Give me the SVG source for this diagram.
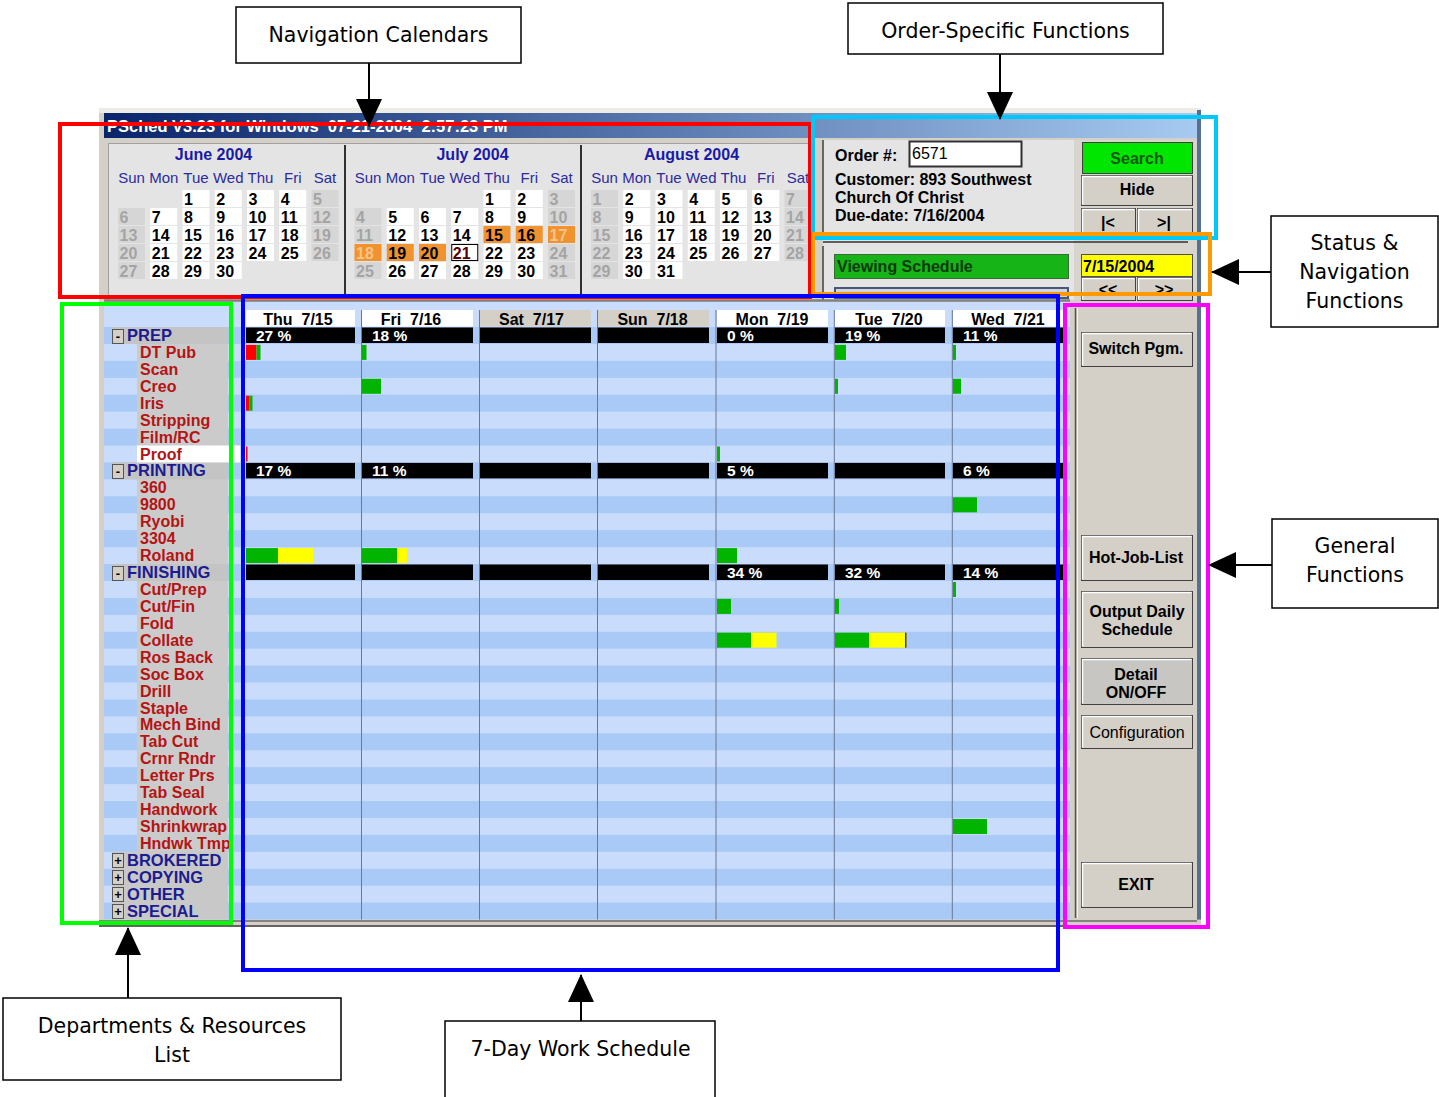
<svg xmlns="http://www.w3.org/2000/svg" width="1439" height="1097" viewBox="0 0 1439 1097">
<defs>
<linearGradient id="tb" x1="0" y1="0" x2="1" y2="0">
<stop offset="0" stop-color="#0a246a"/><stop offset="1" stop-color="#a6caf0"/>
</linearGradient>
<marker id="ah" viewBox="0 0 28 26" refX="27" refY="13" markerWidth="28" markerHeight="26" markerUnits="userSpaceOnUse" orient="auto">
<path d="M0,0 L28,13 L0,26 Z" fill="#000"/>
</marker>
</defs>
<style>
.callout rect{fill:#fff;stroke:#000;stroke-width:1.5}
.callout text{font-family:'DejaVu Sans',Verdana,sans-serif;font-size:20.5px;fill:#000;text-anchor:middle}
#connectors line{stroke:#000;stroke-width:2;marker-end:url(#ah)}
.hl{fill:none;stroke-width:4}
.ui{font-family:'Liberation Sans',Arial,sans-serif;font-weight:bold}
.mt{font-size:16px;fill:#1a1aa8;text-anchor:middle}
.dh{font-size:15px;font-weight:normal;fill:#2b2b9e;text-anchor:middle}
.cd{fill:#fff}
.cw{fill:#d6d6d6}
.co{fill:#f0922e}
.n{font-size:16px;fill:#000}
.nw{font-size:16px;fill:#a4a4a4}
.no{font-size:16px;fill:#f6c488}
.ds{fill:#a9c9f7}
.bar{fill:#000}
.pct{font-size:15.5px;fill:#fff}
.dayh{font-size:16px;fill:#000;text-anchor:middle}
.g{fill:#00b400}.r{fill:#ff0000}.y{fill:#ffff00}
.dep{font-size:16.5px;fill:#1c1c90}
.res{font-size:16px;fill:#b41414}
.btn{fill:#d4d0c8;stroke:#404040;stroke-width:1}
.bhl{fill:none;stroke:#fff;stroke-width:1.5}
.bt{font-size:16px;fill:#000;text-anchor:middle}
.sep{stroke:#6a7890;stroke-width:1}
.pm{fill:#d4d0c8;stroke:#555;stroke-width:1}
.pmt{font-size:13px;fill:#000;text-anchor:middle}
</style>

<!-- Screenshot scene -->
<g id="screenshot">
<rect x="99" y="108" width="1102" height="819" fill="#d4d0c8"/>
<rect x="99" y="108" width="1102" height="5" fill="#ecebe6"/>
<rect x="104" y="113" width="1093" height="25" fill="url(#tb)"/>
<text class="ui" x="107" y="132" font-size="16.5" fill="#fff" xml:space="preserve">PSched V3.23 for Windows  07-21-2004  2:57:23 PM</text>
<rect x="1197" y="110" width="4" height="817" fill="#56708f"/>

<!-- calendar panel -->
<g id="calendars">
<rect x="108" y="143" width="704" height="157" fill="#e4e4e4"/>
<line x1="108" y1="143.5" x2="812" y2="143.5" stroke="#a0a0a0"/>
<line x1="108.5" y1="143" x2="108.5" y2="300" stroke="#a0a0a0"/>
<line x1="345" y1="145" x2="345" y2="299" stroke="#303030" stroke-width="2"/>
<line x1="581" y1="145" x2="581" y2="299" stroke="#303030" stroke-width="2"/>
<text class="ui mt" x="213.5" y="160">June 2004</text>
<text class="ui mt" x="472.5" y="160">July 2004</text>
<text class="ui mt" x="691.5" y="160">August 2004</text>

<g transform="translate(118,0)" class="ui">
<text class="dh" x="13.5" y="183">Sun</text><text class="dh" x="45.75" y="183">Mon</text><text class="dh" x="78" y="183">Tue</text><text class="dh" x="110.25" y="183">Wed</text><text class="dh" x="142.5" y="183">Thu</text><text class="dh" x="174.75" y="183">Fri</text><text class="dh" x="207" y="183">Sat</text>
<rect class="cd" x="64.5" y="190" width="27" height="17"/><text class="n" x="66" y="205">1</text>
<rect class="cd" x="96.75" y="190" width="27" height="17"/><text class="n" x="98.25" y="205">2</text>
<rect class="cd" x="129" y="190" width="27" height="17"/><text class="n" x="130.5" y="205">3</text>
<rect class="cd" x="161.25" y="190" width="27" height="17"/><text class="n" x="162.75" y="205">4</text>
<rect class="cw" x="193.5" y="190" width="27" height="17"/><text class="nw" x="195" y="205">5</text>
<rect class="cw" x="0" y="208" width="27" height="17"/><text class="nw" x="1.5" y="223">6</text>
<rect class="cd" x="32.25" y="208" width="27" height="17"/><text class="n" x="33.75" y="223">7</text>
<rect class="cd" x="64.5" y="208" width="27" height="17"/><text class="n" x="66" y="223">8</text>
<rect class="cd" x="96.75" y="208" width="27" height="17"/><text class="n" x="98.25" y="223">9</text>
<rect class="cd" x="129" y="208" width="27" height="17"/><text class="n" x="130.5" y="223">10</text>
<rect class="cd" x="161.25" y="208" width="27" height="17"/><text class="n" x="162.75" y="223">11</text>
<rect class="cw" x="193.5" y="208" width="27" height="17"/><text class="nw" x="195" y="223">12</text>
<rect class="cw" x="0" y="226" width="27" height="17"/><text class="nw" x="1.5" y="241">13</text>
<rect class="cd" x="32.25" y="226" width="27" height="17"/><text class="n" x="33.75" y="241">14</text>
<rect class="cd" x="64.5" y="226" width="27" height="17"/><text class="n" x="66" y="241">15</text>
<rect class="cd" x="96.75" y="226" width="27" height="17"/><text class="n" x="98.25" y="241">16</text>
<rect class="cd" x="129" y="226" width="27" height="17"/><text class="n" x="130.5" y="241">17</text>
<rect class="cd" x="161.25" y="226" width="27" height="17"/><text class="n" x="162.75" y="241">18</text>
<rect class="cw" x="193.5" y="226" width="27" height="17"/><text class="nw" x="195" y="241">19</text>
<rect class="cw" x="0" y="244" width="27" height="17"/><text class="nw" x="1.5" y="259">20</text>
<rect class="cd" x="32.25" y="244" width="27" height="17"/><text class="n" x="33.75" y="259">21</text>
<rect class="cd" x="64.5" y="244" width="27" height="17"/><text class="n" x="66" y="259">22</text>
<rect class="cd" x="96.75" y="244" width="27" height="17"/><text class="n" x="98.25" y="259">23</text>
<rect class="cd" x="129" y="244" width="27" height="17"/><text class="n" x="130.5" y="259">24</text>
<rect class="cd" x="161.25" y="244" width="27" height="17"/><text class="n" x="162.75" y="259">25</text>
<rect class="cw" x="193.5" y="244" width="27" height="17"/><text class="nw" x="195" y="259">26</text>
<rect class="cw" x="0" y="262" width="27" height="17"/><text class="nw" x="1.5" y="277">27</text>
<rect class="cd" x="32.25" y="262" width="27" height="17"/><text class="n" x="33.75" y="277">28</text>
<rect class="cd" x="64.5" y="262" width="27" height="17"/><text class="n" x="66" y="277">29</text>
<rect class="cd" x="96.75" y="262" width="27" height="17"/><text class="n" x="98.25" y="277">30</text>
</g>

<g transform="translate(354.5,0)" class="ui">
<text class="dh" x="13.5" y="183">Sun</text><text class="dh" x="45.75" y="183">Mon</text><text class="dh" x="78" y="183">Tue</text><text class="dh" x="110.25" y="183">Wed</text><text class="dh" x="142.5" y="183">Thu</text><text class="dh" x="174.75" y="183">Fri</text><text class="dh" x="207" y="183">Sat</text>
<rect class="cd" x="129" y="190" width="27" height="17"/><text class="n" x="130.5" y="205">1</text>
<rect class="cd" x="161.25" y="190" width="27" height="17"/><text class="n" x="162.75" y="205">2</text>
<rect class="cw" x="193.5" y="190" width="27" height="17"/><text class="nw" x="195" y="205">3</text>
<rect class="cw" x="0" y="208" width="27" height="17"/><text class="nw" x="1.5" y="223">4</text>
<rect class="cd" x="32.25" y="208" width="27" height="17"/><text class="n" x="33.75" y="223">5</text>
<rect class="cd" x="64.5" y="208" width="27" height="17"/><text class="n" x="66" y="223">6</text>
<rect class="cd" x="96.75" y="208" width="27" height="17"/><text class="n" x="98.25" y="223">7</text>
<rect class="cd" x="129" y="208" width="27" height="17"/><text class="n" x="130.5" y="223">8</text>
<rect class="cd" x="161.25" y="208" width="27" height="17"/><text class="n" x="162.75" y="223">9</text>
<rect class="cw" x="193.5" y="208" width="27" height="17"/><text class="nw" x="195" y="223">10</text>
<rect class="cw" x="0" y="226" width="27" height="17"/><text class="nw" x="1.5" y="241">11</text>
<rect class="cd" x="32.25" y="226" width="27" height="17"/><text class="n" x="33.75" y="241">12</text>
<rect class="cd" x="64.5" y="226" width="27" height="17"/><text class="n" x="66" y="241">13</text>
<rect class="cd" x="96.75" y="226" width="27" height="17"/><text class="n" x="98.25" y="241">14</text>
<rect class="co" x="129" y="226" width="27" height="17"/><text class="n" x="130.5" y="241">15</text>
<rect class="co" x="161.25" y="226" width="27" height="17"/><text class="n" x="162.75" y="241">16</text>
<rect class="co" x="193.5" y="226" width="27" height="17"/><text class="no" x="195" y="241">17</text>
<rect class="co" x="0" y="244" width="27" height="17"/><text class="no" x="1.5" y="259">18</text>
<rect class="co" x="32.25" y="244" width="27" height="17"/><text class="n" x="33.75" y="259">19</text>
<rect class="co" x="64.5" y="244" width="27" height="17"/><text class="n" x="66" y="259">20</text>
<rect x="97.25" y="244.5" width="26" height="16" fill="#fff" stroke="#000"/><text class="n" x="98.25" y="259" style="fill:#5a0000">21</text>
<rect class="cd" x="129" y="244" width="27" height="17"/><text class="n" x="130.5" y="259">22</text>
<rect class="cd" x="161.25" y="244" width="27" height="17"/><text class="n" x="162.75" y="259">23</text>
<rect class="cw" x="193.5" y="244" width="27" height="17"/><text class="nw" x="195" y="259">24</text>
<rect class="cw" x="0" y="262" width="27" height="17"/><text class="nw" x="1.5" y="277">25</text>
<rect class="cd" x="32.25" y="262" width="27" height="17"/><text class="n" x="33.75" y="277">26</text>
<rect class="cd" x="64.5" y="262" width="27" height="17"/><text class="n" x="66" y="277">27</text>
<rect class="cd" x="96.75" y="262" width="27" height="17"/><text class="n" x="98.25" y="277">28</text>
<rect class="cd" x="129" y="262" width="27" height="17"/><text class="n" x="130.5" y="277">29</text>
<rect class="cd" x="161.25" y="262" width="27" height="17"/><text class="n" x="162.75" y="277">30</text>
<rect class="cw" x="193.5" y="262" width="27" height="17"/><text class="nw" x="195" y="277">31</text>
</g>

<g transform="translate(591,0)" class="ui">
<text class="dh" x="13.5" y="183">Sun</text><text class="dh" x="45.75" y="183">Mon</text><text class="dh" x="78" y="183">Tue</text><text class="dh" x="110.25" y="183">Wed</text><text class="dh" x="142.5" y="183">Thu</text><text class="dh" x="174.75" y="183">Fri</text><text class="dh" x="207" y="183">Sat</text>
<rect class="cw" x="0" y="190" width="27" height="17"/><text class="nw" x="1.5" y="205">1</text>
<rect class="cd" x="32.25" y="190" width="27" height="17"/><text class="n" x="33.75" y="205">2</text>
<rect class="cd" x="64.5" y="190" width="27" height="17"/><text class="n" x="66" y="205">3</text>
<rect class="cd" x="96.75" y="190" width="27" height="17"/><text class="n" x="98.25" y="205">4</text>
<rect class="cd" x="129" y="190" width="27" height="17"/><text class="n" x="130.5" y="205">5</text>
<rect class="cd" x="161.25" y="190" width="27" height="17"/><text class="n" x="162.75" y="205">6</text>
<rect class="cw" x="193.5" y="190" width="27" height="17"/><text class="nw" x="195" y="205">7</text>
<rect class="cw" x="0" y="208" width="27" height="17"/><text class="nw" x="1.5" y="223">8</text>
<rect class="cd" x="32.25" y="208" width="27" height="17"/><text class="n" x="33.75" y="223">9</text>
<rect class="cd" x="64.5" y="208" width="27" height="17"/><text class="n" x="66" y="223">10</text>
<rect class="cd" x="96.75" y="208" width="27" height="17"/><text class="n" x="98.25" y="223">11</text>
<rect class="cd" x="129" y="208" width="27" height="17"/><text class="n" x="130.5" y="223">12</text>
<rect class="cd" x="161.25" y="208" width="27" height="17"/><text class="n" x="162.75" y="223">13</text>
<rect class="cw" x="193.5" y="208" width="27" height="17"/><text class="nw" x="195" y="223">14</text>
<rect class="cw" x="0" y="226" width="27" height="17"/><text class="nw" x="1.5" y="241">15</text>
<rect class="cd" x="32.25" y="226" width="27" height="17"/><text class="n" x="33.75" y="241">16</text>
<rect class="cd" x="64.5" y="226" width="27" height="17"/><text class="n" x="66" y="241">17</text>
<rect class="cd" x="96.75" y="226" width="27" height="17"/><text class="n" x="98.25" y="241">18</text>
<rect class="cd" x="129" y="226" width="27" height="17"/><text class="n" x="130.5" y="241">19</text>
<rect class="cd" x="161.25" y="226" width="27" height="17"/><text class="n" x="162.75" y="241">20</text>
<rect class="cw" x="193.5" y="226" width="27" height="17"/><text class="nw" x="195" y="241">21</text>
<rect class="cw" x="0" y="244" width="27" height="17"/><text class="nw" x="1.5" y="259">22</text>
<rect class="cd" x="32.25" y="244" width="27" height="17"/><text class="n" x="33.75" y="259">23</text>
<rect class="cd" x="64.5" y="244" width="27" height="17"/><text class="n" x="66" y="259">24</text>
<rect class="cd" x="96.75" y="244" width="27" height="17"/><text class="n" x="98.25" y="259">25</text>
<rect class="cd" x="129" y="244" width="27" height="17"/><text class="n" x="130.5" y="259">26</text>
<rect class="cd" x="161.25" y="244" width="27" height="17"/><text class="n" x="162.75" y="259">27</text>
<rect class="cw" x="193.5" y="244" width="27" height="17"/><text class="nw" x="195" y="259">28</text>
<rect class="cw" x="0" y="262" width="27" height="17"/><text class="nw" x="1.5" y="277">29</text>
<rect class="cd" x="32.25" y="262" width="27" height="17"/><text class="n" x="33.75" y="277">30</text>
<rect class="cd" x="64.5" y="262" width="27" height="17"/><text class="n" x="66" y="277">31</text>
</g>
</g>

<!-- order / status panel -->
<g id="order-panel" class="ui">
<rect x="823" y="140" width="374" height="160" fill="#e4e4e4"/>
<rect x="1074" y="140" width="123" height="160" fill="#d8d5ce"/>
<line x1="823" y1="140" x2="823" y2="236" stroke="#404040" stroke-width="1.5"/>
<line x1="823" y1="246" x2="823" y2="300" stroke="#404040" stroke-width="1.5"/>
<text class="n" x="835" y="161">Order #:</text>
<rect x="909.5" y="141.5" width="112" height="25" fill="#fff" stroke="#303030" stroke-width="2"/>
<text x="912" y="159" font-size="16" font-weight="normal" fill="#000">6571</text>
<text class="n" x="835" y="185">Customer: 893 Southwest</text>
<text class="n" x="835" y="203">Church Of Christ</text>
<text class="n" x="835" y="221">Due-date: 7/16/2004</text>
<rect x="1082.5" y="142.5" width="110" height="31" fill="#00e600" stroke="#404040"/>
<text class="bt" x="1137" y="164" style="fill:#0a5a0a">Search</text>
<rect class="btn" x="1081.5" y="175.5" width="111" height="30"/><path class="bhl" d="M1082.5,204.5 V176.5 H1191.5"/>
<text class="bt" x="1137" y="195">Hide</text>
<rect class="btn" x="1081.5" y="208.5" width="54" height="29"/><path class="bhl" d="M1082.5,236.5 V209.5 H1134.5"/>
<rect class="btn" x="1137.5" y="208.5" width="55" height="29"/><path class="bhl" d="M1138.5,236.5 V209.5 H1191.5"/>
<text class="bt" x="1108" y="228">|&lt;</text>
<text class="bt" x="1164" y="228">&gt;|</text>
<line x1="823" y1="242" x2="1188" y2="242" stroke="#303030" stroke-width="1.5"/>
<rect x="834.5" y="254.5" width="234" height="24" fill="#16b416" stroke="#3a6a3a"/>
<text class="n" x="837" y="272" style="fill:#0a3a0a">Viewing Schedule</text>
<rect x="1081.5" y="254.5" width="111" height="22" fill="#ffff00" stroke="#505050"/>
<text x="1083" y="272" font-size="16" fill="#000">7/15/2004</text>
<rect class="btn" x="1081.5" y="277.5" width="54" height="23"/><path class="bhl" d="M1082.5,299.5 V278.5 H1134.5"/>
<rect class="btn" x="1137.5" y="277.5" width="55" height="23"/><path class="bhl" d="M1138.5,299.5 V278.5 H1191.5"/>
<text class="bt" x="1108" y="295">&lt;&lt;</text>
<text class="bt" x="1164" y="295">&gt;&gt;</text>
<rect x="835" y="288" width="233" height="10" fill="#d0d4e0" stroke="#4a5878" stroke-width="2"/>
</g>

<!-- schedule + list background -->
<g id="grid-bg">
<rect x="104" y="302" width="966" height="618" fill="#cadcfc"/>
<line x1="104" y1="300.5" x2="1070" y2="300.5" stroke="#808080" stroke-width="2.5"/>
<rect class="ds" x="104" y="327" width="966" height="16.93"/>
<rect class="ds" x="104" y="360.9" width="966" height="16.93"/>
<rect class="ds" x="104" y="394.7" width="966" height="16.93"/>
<rect class="ds" x="104" y="428.6" width="966" height="16.93"/>
<rect class="ds" x="104" y="462.4" width="966" height="16.93"/>
<rect class="ds" x="104" y="496.3" width="966" height="16.93"/>
<rect class="ds" x="104" y="530.2" width="966" height="16.93"/>
<rect class="ds" x="104" y="564" width="966" height="16.93"/>
<rect class="ds" x="104" y="597.9" width="966" height="16.93"/>
<rect class="ds" x="104" y="631.7" width="966" height="16.93"/>
<rect class="ds" x="104" y="665.6" width="966" height="16.93"/>
<rect class="ds" x="104" y="699.5" width="966" height="16.93"/>
<rect class="ds" x="104" y="733.3" width="966" height="16.93"/>
<rect class="ds" x="104" y="767.2" width="966" height="16.93"/>
<rect class="ds" x="104" y="801" width="966" height="16.93"/>
<rect class="ds" x="104" y="834.9" width="966" height="16.93"/>
<rect class="ds" x="104" y="868.8" width="966" height="16.93"/>
<rect class="ds" x="104" y="902.6" width="966" height="16.93"/>
</g>

<!-- department list -->
<g id="departments" class="ui">
<rect x="137" y="343.9" width="91" height="508" fill="#cbcbcb"/>
<rect x="112" y="327" width="116" height="16.9" fill="#c4c4c4"/>
<rect x="112" y="462.4" width="116" height="16.9" fill="#c4c4c4"/>
<rect x="112" y="564" width="116" height="16.9" fill="#c4c4c4"/>
<rect x="112" y="851.8" width="116" height="67.8" fill="#c8c8c8"/>
<rect x="137" y="445.5" width="103" height="16.9" fill="#fff"/>
<rect class="pm" x="112.5" y="329.5" width="11" height="14"/><text class="pmt" x="118" y="341">-</text>
<rect class="pm" x="112.5" y="464.5" width="11" height="14"/><text class="pmt" x="118" y="476">-</text>
<rect class="pm" x="112.5" y="566.5" width="11" height="14"/><text class="pmt" x="118" y="578">-</text>
<rect class="pm" x="112.5" y="853.5" width="11" height="14"/><text class="pmt" x="118" y="865">+</text>
<rect class="pm" x="112.5" y="870.5" width="11" height="14"/><text class="pmt" x="118" y="882">+</text>
<rect class="pm" x="112.5" y="887.5" width="11" height="14"/><text class="pmt" x="118" y="899">+</text>
<rect class="pm" x="112.5" y="904.5" width="11" height="14"/><text class="pmt" x="118" y="916">+</text>
<text class="dep" x="127" y="341">PREP</text>
<text class="res" x="140" y="358">DT Pub</text>
<text class="res" x="140" y="375">Scan</text>
<text class="res" x="140" y="392">Creo</text>
<text class="res" x="140" y="409">Iris</text>
<text class="res" x="140" y="426">Stripping</text>
<text class="res" x="140" y="443">Film/RC</text>
<text class="res" x="140" y="460">Proof</text>
<text class="dep" x="127" y="476">PRINTING</text>
<text class="res" x="140" y="493">360</text>
<text class="res" x="140" y="510">9800</text>
<text class="res" x="140" y="527">Ryobi</text>
<text class="res" x="140" y="544">3304</text>
<text class="res" x="140" y="561">Roland</text>
<text class="dep" x="127" y="578">FINISHING</text>
<text class="res" x="140" y="595">Cut/Prep</text>
<text class="res" x="140" y="612">Cut/Fin</text>
<text class="res" x="140" y="629">Fold</text>
<text class="res" x="140" y="646">Collate</text>
<text class="res" x="140" y="663">Ros Back</text>
<text class="res" x="140" y="680">Soc Box</text>
<text class="res" x="140" y="697">Drill</text>
<text class="res" x="140" y="714">Staple</text>
<text class="res" x="140" y="730">Mech Bind</text>
<text class="res" x="140" y="747">Tab Cut</text>
<text class="res" x="140" y="764">Crnr Rndr</text>
<text class="res" x="140" y="781">Letter Prs</text>
<text class="res" x="140" y="798">Tab Seal</text>
<text class="res" x="140" y="815">Handwork</text>
<text class="res" x="140" y="832">Shrinkwrap</text>
<text class="res" x="140" y="849">Hndwk Tmp</text>
<text class="dep" x="127" y="866">BROKERED</text>
<text class="dep" x="127" y="883">COPYING</text>
<text class="dep" x="127" y="900">OTHER</text>
<text class="dep" x="127" y="917">SPECIAL</text>
</g>

<!-- schedule grid -->
<g id="schedule" class="ui">
<line class="sep" x1="361.5" y1="310" x2="361.5" y2="920"/>
<line class="sep" x1="479.5" y1="310" x2="479.5" y2="920"/>
<line class="sep" x1="597.5" y1="310" x2="597.5" y2="920"/>
<line class="sep" x1="716" y1="310" x2="716" y2="920"/>
<line class="sep" x1="834.3" y1="310" x2="834.3" y2="920"/>
<line class="sep" x1="952.3" y1="310" x2="952.3" y2="920"/>
<rect x="246" y="310" width="109" height="16.5" fill="#fff"/>
<rect x="362" y="310" width="111" height="16.5" fill="#fff"/>
<rect x="480" y="310" width="111" height="16.5" fill="#d4d0c8"/>
<rect x="598" y="310" width="111" height="16.5" fill="#d4d0c8"/>
<rect x="717" y="310" width="111" height="16.5" fill="#fff"/>
<rect x="835" y="310" width="110" height="16.5" fill="#fff"/>
<rect x="953" y="310" width="110" height="16.5" fill="#fff"/>
<text class="dayh" x="298" y="325" xml:space="preserve">Thu  7/15</text>
<text class="dayh" x="411" y="325" xml:space="preserve">Fri  7/16</text>
<text class="dayh" x="531.5" y="325" xml:space="preserve">Sat  7/17</text>
<text class="dayh" x="652.5" y="325" xml:space="preserve">Sun  7/18</text>
<text class="dayh" x="772" y="325" xml:space="preserve">Mon  7/19</text>
<text class="dayh" x="889" y="325" xml:space="preserve">Tue  7/20</text>
<text class="dayh" x="1008" y="325" xml:space="preserve">Wed  7/21</text>

<rect class="bar" x="246" y="327.5" width="109" height="15.5"/>
<rect class="bar" x="362" y="327.5" width="111" height="15.5"/>
<rect class="bar" x="480" y="327.5" width="111" height="15.5"/>
<rect class="bar" x="598" y="327.5" width="111" height="15.5"/>
<rect class="bar" x="717" y="327.5" width="111" height="15.5"/>
<rect class="bar" x="835" y="327.5" width="110" height="15.5"/>
<rect class="bar" x="953" y="327.5" width="110" height="15.5"/>
<rect class="bar" x="246" y="462.9" width="109" height="15.5"/>
<rect class="bar" x="362" y="462.9" width="111" height="15.5"/>
<rect class="bar" x="480" y="462.9" width="111" height="15.5"/>
<rect class="bar" x="598" y="462.9" width="111" height="15.5"/>
<rect class="bar" x="717" y="462.9" width="111" height="15.5"/>
<rect class="bar" x="835" y="462.9" width="110" height="15.5"/>
<rect class="bar" x="953" y="462.9" width="110" height="15.5"/>
<rect class="bar" x="246" y="564.5" width="109" height="15.5"/>
<rect class="bar" x="362" y="564.5" width="111" height="15.5"/>
<rect class="bar" x="480" y="564.5" width="111" height="15.5"/>
<rect class="bar" x="598" y="564.5" width="111" height="15.5"/>
<rect class="bar" x="717" y="564.5" width="111" height="15.5"/>
<rect class="bar" x="835" y="564.5" width="110" height="15.5"/>
<rect class="bar" x="953" y="564.5" width="110" height="15.5"/>

<text class="pct" x="256" y="340.5">27 %</text>
<text class="pct" x="372" y="340.5">18 %</text>
<text class="pct" x="727" y="340.5">0 %</text>
<text class="pct" x="845" y="340.5">19 %</text>
<text class="pct" x="963" y="340.5">11 %</text>
<text class="pct" x="256" y="476">17 %</text>
<text class="pct" x="372" y="476">11 %</text>
<text class="pct" x="727" y="476">5 %</text>
<text class="pct" x="963" y="476">6 %</text>
<text class="pct" x="727" y="577.5">34 %</text>
<text class="pct" x="845" y="577.5">32 %</text>
<text class="pct" x="963" y="577.5">14 %</text>

<!-- work blocks -->
<rect class="r" x="246" y="344.9" width="10.5" height="15"/><rect class="g" x="256.5" y="344.9" width="4" height="15"/>
<rect class="g" x="362" y="344.9" width="4.5" height="15"/>
<rect class="g" x="835" y="344.9" width="11" height="15"/>
<rect class="g" x="953" y="344.9" width="3" height="15"/>
<rect class="g" x="362" y="378.8" width="19" height="15"/>
<rect class="g" x="835" y="378.8" width="3" height="15"/>
<rect class="g" x="953" y="378.8" width="8" height="15"/>
<rect class="r" x="246" y="395.7" width="3.5" height="15"/><rect class="g" x="249.5" y="395.7" width="3" height="15"/>
<rect class="r" x="246" y="446.5" width="1.5" height="15"/>
<rect class="g" x="717" y="446.5" width="3" height="15"/>
<rect class="g" x="953" y="497.3" width="24" height="15"/>
<rect class="g" x="246" y="548.1" width="32" height="15"/><rect class="y" x="278" y="548.1" width="35" height="15"/>
<rect class="g" x="362" y="548.1" width="35" height="15"/><rect class="y" x="397" y="548.1" width="10" height="15"/>
<rect class="g" x="717" y="548.1" width="20" height="15"/>
<rect class="g" x="953" y="582" width="3" height="15"/>
<rect class="g" x="717" y="598.9" width="14" height="15"/>
<rect class="g" x="835" y="598.9" width="4" height="15"/>
<rect class="g" x="717" y="632.7" width="34" height="15"/><rect class="y" x="751" y="632.7" width="25.5" height="15"/>
<rect class="g" x="835" y="632.7" width="34" height="15"/><rect class="y" x="869" y="632.7" width="36" height="15"/><rect x="905" y="632.7" width="1.5" height="15" fill="#604000"/>
<rect class="g" x="953" y="819" width="34" height="15"/>
</g>

<!-- right button panel -->
<g id="general-panel" class="ui">
<rect x="1070" y="302" width="127" height="618" fill="#d4d0c8"/>
<line x1="1075.5" y1="308" x2="1075.5" y2="918" stroke="#505050" stroke-width="1.5"/>
<line x1="1077.5" y1="308" x2="1077.5" y2="918" stroke="#f4f4f4" stroke-width="1"/>
<rect class="btn" x="1081.5" y="332.5" width="111" height="34"/><path class="bhl" d="M1082.5,365.5 V333.5 H1191.5"/>
<text class="bt" x="1136" y="354">Switch Pgm.</text>
<rect class="btn" x="1081.5" y="535.5" width="111" height="45"/><path class="bhl" d="M1082.5,579.5 V536.5 H1191.5"/>
<text class="bt" x="1136" y="563">Hot-Job-List</text>
<rect class="btn" x="1081.5" y="591.5" width="111" height="56"/><path class="bhl" d="M1082.5,646.5 V592.5 H1191.5"/>
<text class="bt" x="1137" y="617">Output Daily</text>
<text class="bt" x="1137" y="635">Schedule</text>
<rect class="btn" x="1081.5" y="658.5" width="111" height="46" style="fill:#c8c6c2"/><path class="bhl" d="M1082.5,703.5 V659.5 H1191.5"/>
<text class="bt" x="1136" y="680">Detail</text>
<text class="bt" x="1136" y="698">ON/OFF</text>
<rect class="btn" x="1081.5" y="715.5" width="111" height="33"/><path class="bhl" d="M1082.5,747.5 V716.5 H1191.5"/>
<text class="bt" x="1137" y="738" font-weight="normal" font-size="15">Configuration</text>
<rect class="btn" x="1081.5" y="862.5" width="111" height="45"/><path class="bhl" d="M1082.5,906.5 V863.5 H1191.5"/>
<text class="bt" x="1136" y="890">EXIT</text>
</g>
<rect x="99" y="919.6" width="1102" height="7.4" fill="#d4d0c8"/>
<line x1="99" y1="921" x2="1197" y2="921" stroke="#6a6a6a" stroke-width="1.5"/>
<line x1="99" y1="926" x2="1201" y2="926" stroke="#404040" stroke-width="1.5"/>
</g>

<!-- highlight frames -->
<g id="highlights">
<rect class="hl" x="60" y="124" width="750" height="173" stroke="#ff0000"/>
<rect class="hl" x="813" y="117" width="403" height="121" stroke="#00c8f8"/>
<rect class="hl" x="813" y="234" width="397" height="60" stroke="#ff9900"/>
<rect class="hl" x="243" y="296" width="815" height="674" stroke="#0000ff"/>
<rect class="hl" x="62" y="304" width="169" height="619" stroke="#00ff00"/>
<rect class="hl" x="1065" y="305" width="143" height="622" stroke="#ff00ff"/>
</g>

<!-- callout nodes -->
<g id="node-nav-calendars" class="callout">
<rect x="236" y="7" width="285" height="56"/>
<text x="378.5" y="42">Navigation Calendars</text>
</g>
<g id="node-order-functions" class="callout">
<rect x="848" y="3" width="315" height="51"/>
<text x="1005.5" y="38">Order-Specific Functions</text>
</g>
<g id="node-status-nav" class="callout">
<rect x="1271" y="216" width="167" height="111"/>
<text x="1354.5" y="250">Status &amp;</text>
<text x="1354.5" y="279">Navigation</text>
<text x="1354.5" y="308">Functions</text>
</g>
<g id="node-general" class="callout">
<rect x="1272" y="519" width="166" height="89"/>
<text x="1355" y="553">General</text>
<text x="1355" y="582">Functions</text>
</g>
<g id="node-departments" class="callout">
<rect x="3" y="998" width="338" height="82"/>
<text x="172" y="1033">Departments &amp; Resources</text>
<text x="172" y="1062">List</text>
</g>
<g id="node-schedule" class="callout">
<rect x="445" y="1021" width="270" height="80"/>
<text x="580.5" y="1056">7-Day Work Schedule</text>
</g>

<g id="connectors">
<line x1="369" y1="63" x2="369" y2="126"/>
<line x1="1000" y1="54" x2="1000" y2="119"/>
<line x1="1271" y1="272" x2="1212" y2="272"/>
<line x1="1272" y1="565" x2="1209" y2="565"/>
<line x1="128" y1="998" x2="128" y2="928"/>
<line x1="581" y1="1021" x2="581" y2="975"/>
</g>
</svg>
